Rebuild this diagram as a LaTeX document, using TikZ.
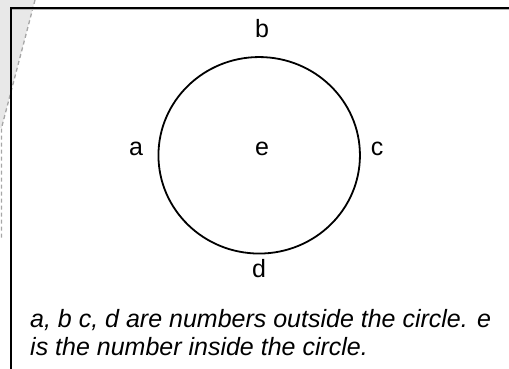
\documentclass[tikz,border=0pt]{standalone}
\usepackage{fontspec}
\setmainfont{Liberation Sans}
\usetikzlibrary{shapes.geometric}
\begin{document}
\begin{tikzpicture}[x=1pt,y=-1pt,
  lbl/.style={font=\fontsize{25}{29}\selectfont, inner sep=0pt, anchor=base},
  note/.style={font=\fontsize{25}{29}\selectfont\itshape, inner sep=0pt, anchor=base west},
  ring/.style={draw, line width=1.8pt, ellipse, inner sep=0pt},
  fold/.style={gray!70, line width=1.3pt, dash pattern=on 4pt off 3pt},
  frame/.style={line width=2pt}
]
\useasboundingbox (0,0) rectangle (509,369);
% folded corner shading
\fill[gray!18] (0,0) -- (35,0) -- (1.5,128) -- (0,128) -- cycle;
\coordinate (f1) at (35,0);
\coordinate (f2) at (1.5,128);
\coordinate (f3) at (1.5,240);
\draw[fold] (f1) -- (f2) -- (f3);
% frame
\coordinate (s1) at (11.5,9.9);
\coordinate (s2) at (509,9.9);
\draw[black!30, line width=1pt] (s1) -- (s2);
\coordinate (k1) at (10.5,369);
\coordinate (k2) at (10.5,8);
\coordinate (k3) at (509,8);
\draw[frame] (k1) -- (k2) -- (k3);
% circle
\node[ring, minimum width=201.5pt, minimum height=196.5pt] (circ) at (259.2,155.3) {};
% labels
\node[lbl] (b) at (262,38) {b};
\node[lbl] (a) at (136,155) {a};
\node[lbl] (e) at (262,155) {e};
\node[lbl] (c) at (377,155) {c};
\node[lbl] (d) at (259,277) {d};
% note
\node[note] (n1) at (30,327) {a, b c, d are numbers outside the circle. e};
\node[note] (n2) at (30,355) {is the number inside the circle.};
\end{tikzpicture}
\end{document}
